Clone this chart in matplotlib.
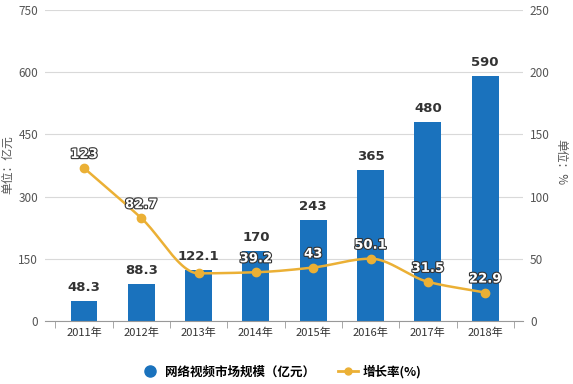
import matplotlib
matplotlib.use("Agg")
import matplotlib.pyplot as plt
import matplotlib.patheffects as pe
import numpy as np
from matplotlib.lines import Line2D

plt.rcParams['font.family'] = ['Noto Sans CJK SC', 'DejaVu Sans']

years = ['2011年', '2012年', '2013年', '2014年', '2015年', '2016年', '2017年', '2018年']
market = [48.3, 88.3, 122.1, 170, 243, 365, 480, 590]
growth = [123, 82.7, 38.3, 39.2, 43, 50.1, 31.5, 22.9]
growth_labels = ['123', '82.7', None, '39.2', '43', '50.1', '31.5', '22.9']
market_labels = ['48.3', '88.3', '122.1', '170', '243', '365', '480', '590']

bar_color = '#1a72bd'
line_color = '#ebb035'

fig = plt.figure(figsize=(5.73, 3.84), dpi=100)
ax = fig.add_axes([45/573, 1-321/384, 478/573, 311/384])
ax2 = ax.twinx()

x = np.arange(len(years))
ax.bar(x, market, width=0.47, color=bar_color, zorder=2)
ax.set_ylim(0, 750)
ax.set_yticks([0, 150, 300, 450, 600, 750])
ax.set_xlim(-0.68, 7.66)
ax.grid(axis='y', color='#d9d9d9', linewidth=0.8, zorder=0)
ax.set_axisbelow(True)
for s in ['top', 'right', 'left']:
    ax.spines[s].set_visible(False)
for s in ['top', 'right', 'left', 'bottom']:
    ax2.spines[s].set_visible(False)
ax.spines['bottom'].set_color('#999999')

ax.set_xticks(x)
ax.set_xticklabels(years)
ax.set_xticks(np.arange(-0.5, len(years), 1.0), minor=True)
ax.tick_params(axis='x', which='major', length=0, pad=5, labelsize=8, colors='#333333')
ax.tick_params(axis='x', which='minor', length=5, color='#999999')
ax.tick_params(axis='y', length=0, labelsize=8.5, colors='#555555', pad=5)

for xi, v, lab in zip(x, market, market_labels):
    ax.annotate(lab, (xi, v), xytext=(0, 5), textcoords='offset points',
                ha='center', va='bottom', fontsize=9.5, fontweight='bold',
                color='#333333', family=['DejaVu Sans'])

# smooth monotone curve through growth points (Fritsch-Carlson)
gx = np.asarray(x, float)
gy = np.asarray(growth, float)
h = np.diff(gx)
d = np.diff(gy) / h
m = np.zeros_like(gy)
m[0], m[-1] = d[0], d[-1]
for i in range(1, len(gy) - 1):
    if d[i-1] * d[i] <= 0:
        m[i] = 0.0
    else:
        m[i] = 2.0 / (1.0 / d[i-1] + 1.0 / d[i])
px, py = [], []
for i in range(len(gx) - 1):
    t = np.linspace(0, 1, 25)
    h00 = 2*t**3 - 3*t**2 + 1
    h10 = t**3 - 2*t**2 + t
    h01 = -2*t**3 + 3*t**2
    h11 = t**3 - t**2
    px.extend(gx[i] + t*h[i])
    py.extend(h00*gy[i] + h10*h[i]*m[i] + h01*gy[i+1] + h11*h[i]*m[i+1])
ax2.plot(px, py, color=line_color, linewidth=1.8, zorder=3)
ax2.plot(gx, gy, 'o', color=line_color, markersize=6, zorder=4)
ax2.set_ylim(0, 250)
ax2.set_yticks([0, 50, 100, 150, 200, 250])
ax2.tick_params(axis='y', length=0, labelsize=8.5, colors='#555555', pad=5)

for xi, v, lab in zip(x, growth, growth_labels):
    if lab is None:
        continue
    ax2.annotate(lab, (xi, v), xytext=(0, 5), textcoords='offset points',
                 ha='center', va='bottom', fontsize=9.5, fontweight='bold',
                 color='white', family=['DejaVu Sans'],
                 path_effects=[pe.withStroke(linewidth=1.6, foreground='#333333')])

fig.text(8/573, 1-165/384, '单位：亿元', rotation=90, ha='center', va='center',
         fontsize=8.5, color='#555555')
fig.text(561/573, 1-162/384, '单位：%', rotation=270, ha='center', va='center',
         fontsize=8.5, color='#555555')

handles = [Line2D([], [], marker='o', linestyle='none', color=bar_color, markersize=8),
           Line2D([], [], marker='o', color=line_color, markersize=5, linewidth=2)]
fig.legend(handles, ['网络视频市场规模（亿元）', '增长率(%)'], loc='center',
           bbox_to_anchor=(0.49, 1-372/384), ncol=2, frameon=False,
           prop={'size': 9, 'weight': 'bold'}, handlelength=1.6, columnspacing=1.8,
           handletextpad=0.4)

fig.savefig('out.png', dpi=100)
